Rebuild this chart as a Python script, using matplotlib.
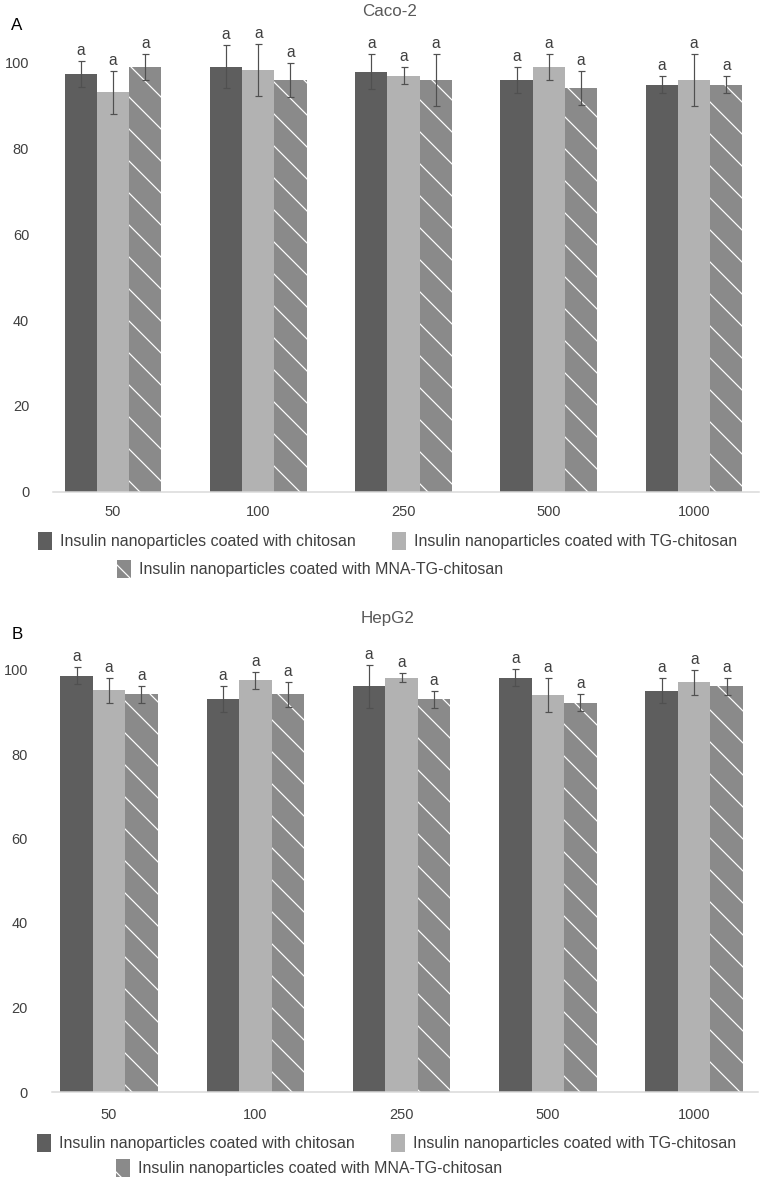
import matplotlib
matplotlib.use("Agg")
import matplotlib.pyplot as plt
import numpy as np

# datos
concentraciones = ['50', '100', '250', '500', '1000']
series = ['Insulin nanoparticles coated with chitosan',
          'Insulin nanoparticles coated with TG-chitosan',
          'Insulin nanoparticles coated with MNA-TG-chitosan']

caco_quitosano = [97.4, 99.1, 98.0, 96.0, 94.9]
caco_tg = [93.2, 98.4, 97.0, 99.1, 96.0]
caco_mna = [99.0, 96.0, 96.0, 94.1, 94.9]
caco_err_quitosano = [3, 5, 4, 3, 2]
caco_err_tg = [5, 6, 2, 3, 6]
caco_err_mna = [3, 4, 6, 4, 2]

hep_quitosano = [98.5, 93.0, 96.0, 98.1, 95.0]
hep_tg = [95.1, 97.4, 98.1, 94.0, 97.0]
hep_mna = [94.1, 94.1, 93.0, 92.1, 96.0]
hep_err_quitosano = [2, 3, 5, 2, 3]
hep_err_tg = [3, 2, 1, 4, 3]
hep_err_mna = [2, 3, 2, 2, 2]

letras = 'a'

W, H = 771, 1184
DPI = 96


def pt(px):
    # pixeles -> puntos
    return px * 72 / DPI


plt.rcParams['font.family'] = ['Liberation Sans', 'DejaVu Sans']
plt.rcParams['hatch.linewidth'] = pt(1.2)

colores = ['#5e5e5e', '#b2b2b2', '#8a8a8a']
tramas = [None, None, '\\']
gris_texto = '#404040'

fig = plt.figure(figsize=(W / DPI, H / DPI), dpi=DPI)


def panel(izq, der, base, px_por_unidad, centro0, paso, valores, errores,
          titulo, letra, pos_titulo, pos_letra, fila1, fila2, pad_x):
    arriba = base - 110 * px_por_unidad
    ax = fig.add_axes([izq / W, (H - base) / H, (der - izq) / W, (base - arriba) / H])
    x = np.arange(len(concentraciones))
    ancho = 0.222
    handles = []
    for i in range(3):
        xs = x + (i - 1) * ancho
        b = ax.bar(xs, valores[i], ancho, color=colores[i], hatch=tramas[i],
                   edgecolor='white' if tramas[i] else colores[i], linewidth=0,
                   label=series[i])
        handles.append(b)
        ax.errorbar(xs, valores[i], yerr=errores[i], fmt='none', ecolor='#505050',
                    elinewidth=pt(1.2), capsize=pt(3.5), capthick=pt(1.2))
        for xi, v, e in zip(xs, valores[i], errores[i]):
            ax.annotate(letras, (xi, v + e), xytext=(0, pt(3)), textcoords='offset points',
                        ha='center', va='bottom', fontsize=pt(15.5), color=gris_texto)
    ax.set_xlim((izq - centro0) / paso, (der - centro0) / paso)
    ax.set_ylim(0, 110)
    ax.set_yticks(range(0, 101, 20))
    ax.set_xticks(x)
    ax.set_xticklabels(concentraciones)
    for s in ['top', 'right', 'left']:
        ax.spines[s].set_visible(False)
    ax.spines['bottom'].set_color('#d9d9d9')
    ax.spines['bottom'].set_linewidth(pt(1.5))
    ax.tick_params(axis='y', length=0, pad=pt(24), labelsize=pt(14.5), labelcolor=gris_texto)
    ax.tick_params(axis='x', length=0, pad=pt(pad_x), labelsize=pt(14.5), labelcolor=gris_texto)

    fig.text(pos_titulo[0] / W, 1 - pos_titulo[1] / H, titulo, ha='center', va='center',
             fontsize=pt(17), color='#595959')
    fig.text(pos_letra[0] / W, 1 - pos_letra[1] / H, letra, ha='center', va='center',
             fontsize=pt(17), color='black')

    opciones = dict(frameon=False, fontsize=pt(16), handlelength=0.85, handleheight=1.4,
                    handletextpad=0.5, borderpad=0, borderaxespad=0, labelcolor=gris_texto)
    leg1 = ax.legend(handles[:2], series[:2], ncol=2, columnspacing=2.3, loc='center left',
                     bbox_to_anchor=(fila1[0] / W, 1 - fila1[1] / H),
                     bbox_transform=fig.transFigure, **opciones)
    ax.add_artist(leg1)
    ax.legend(handles[2:], series[2:], loc='center left',
              bbox_to_anchor=(fila2[0] / W, 1 - fila2[1] / H),
              bbox_transform=fig.transFigure, **opciones)
    return ax


panel(53, 759, 491.7, 4.287, 113, 145.25,
      [caco_quitosano, caco_tg, caco_mna],
      [caco_err_quitosano, caco_err_tg, caco_err_mna],
      'Caco-2', 'A', (390, 12), (17, 26), (38, 541), (117, 569), 13)

panel(52, 758, 1092, 4.225, 109, 146.3,
      [hep_quitosano, hep_tg, hep_mna],
      [hep_err_quitosano, hep_err_tg, hep_err_mna],
      'HepG2', 'B', (388, 618), (17, 634), (37, 1143), (116, 1168), 16)

fig.savefig('out.png', dpi=DPI)
